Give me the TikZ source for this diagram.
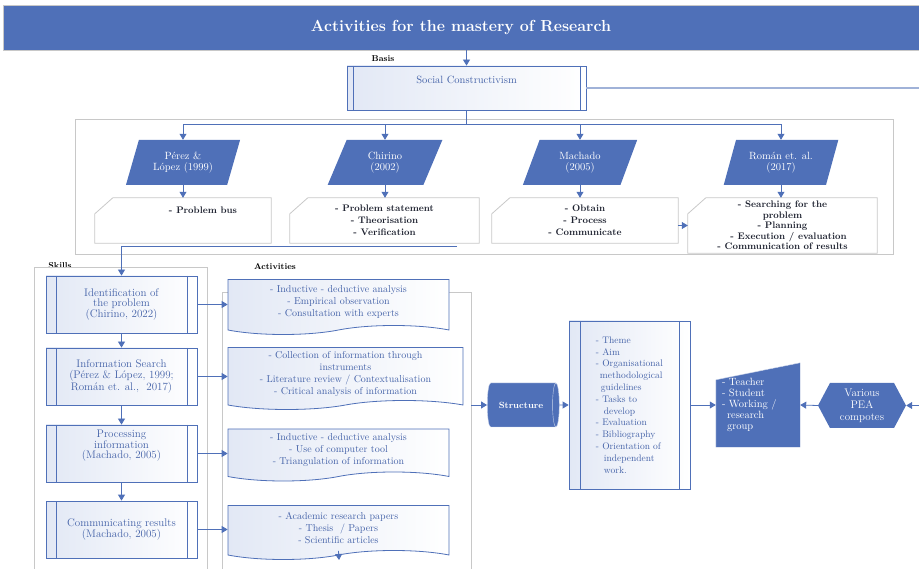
\documentclass[tikz,border=0pt]{standalone}
\usetikzlibrary{arrows.meta,shapes.geometric,shapes.symbols,backgrounds}

\definecolor{mainblue}{RGB}{79,112,184}
\definecolor{textblue}{RGB}{68,98,168}
\definecolor{linkblue}{RGB}{160,178,216}
\definecolor{framegray}{RGB}{200,200,200}
\definecolor{boxtint}{RGB}{226,232,245}
\definecolor{textdark}{RGB}{30,34,48}

% outline of a card with a cut corner
\newcommand\cardedge[1]{\draw [draw=framegray, line width=0.8pt] ([yshift=-16pt]#1.north west)
	-- ([xshift=18pt]#1.north west) -- (#1.north east) -- (#1.south east) -- (#1.south west) -- cycle;}

\begin{document}
\begin{tikzpicture}[
  x=1pt, y=-1pt,
  ln/.style={draw=mainblue, line width=0.8pt},
  arr/.style={ln, -{Triangle[width=7pt,length=6pt]}},
  frame/.style={draw=framegray, line width=1pt},
  tag/.style={font=\bfseries\fontsize{8.5}{9}\selectfont, text=black, inner sep=0pt},
  banner/.style={fill=mainblue, draw=framegray, text=white, minimum width=916pt,
    minimum height=45pt, font=\bfseries\fontsize{16}{18}\selectfont},
  procbox/.style={draw=mainblue, line width=0.8pt, left color=boxtint, right color=white,
    text=textblue, align=center, inner sep=1pt, font=\fontsize{11}{10.5}\selectfont,
    path picture={\draw [mainblue, line width=0.8pt]
      ([xshift=#1]path picture bounding box.north west) -- ([xshift=#1]path picture bounding box.south west)
      ([xshift=-#1]path picture bounding box.north east) -- ([xshift=-#1]path picture bounding box.south east);}},
  procbox/.default=10pt,
  para/.style={trapezium, trapezium left angle=69, trapezium right angle=111,
    trapezium stretches=true, fill=mainblue, text=white, minimum width=115pt,
    minimum height=45pt, align=center, inner sep=1pt, font=\fontsize{10.5}{11.5}\selectfont},
  card/.style={fill=white, text=textdark, align=center, inner sep=1pt,
    font=\bfseries\fontsize{9.5}{11.8}\selectfont},
  doc/.style={tape, tape bend top=none, tape bend bottom=in and out, tape bend height=9pt,
    draw=mainblue, line width=0.8pt, left color=boxtint, right color=white, text=textblue,
    align=center, inner sep=1pt, font=\fontsize{10}{12}\selectfont},
  store/.style={cylinder, shape aspect=0.8, fill=mainblue, draw=white!70!mainblue,
    text=white, minimum width=44pt, minimum height=72pt, inner sep=1pt,
    font=\bfseries\fontsize{9}{10}\selectfont},
  hexa/.style={signal, signal to=west and east, signal pointer angle=124, fill=mainblue,
    text=white, minimum width=88pt, minimum height=45pt, align=center, inner sep=1pt,
    font=\fontsize{11}{12}\selectfont},
]

\useasboundingbox (0,0) rectangle (919,569);

% head and basis
\node [banner] (title) at (461,27.5) {Activities for the mastery of Research};
\node [tag] (basis) at (383,59) {Basis};
\node [procbox=6pt, minimum width=239pt, minimum height=44pt, font=\fontsize{10.5}{12}\selectfont] (social) at (466.5,88)
	{Social Constructivism\\\strut};
\draw [arr] (social.north |- title.south) -- (social.north);
\coordinate (rimtop) at (919,88);
\draw [linkblue, line width=1.6pt] (social.east) -- (rimtop);

% authors
\draw [frame] (75,120) rectangle (893,255);

\node [para] (perez) at (183,162.5) {Pérez \&\\López (1999)};
\node [para] (chirino) at (385,162.5) {Chirino\\(2002)};
\node [para] (machado) at (580,162.5) {Machado\\(2005)};
\node [para] (roman) at (781,162.5) {Román et. al.\\(2017)};

\coordinate (split) at (466.5,124);
\draw [ln] (social.south) -- (split);
\draw [arr] (split) -| (perez.north);
\draw [arr] (split) -| (chirino.north);
\draw [arr] (split) -| (machado.north);
\draw [arr] (split) -| (roman.north);

\node [card, minimum width=176pt, minimum height=45pt] (cperez) at (183,220.5) {\hspace{40pt}- Problem bus\\[8pt]};
\node [card, minimum width=189pt, minimum height=45pt] (cchirino) at (384.5,220.5)
	{- Problem statement\\- Theorisation\\- Verification};
\node [card, minimum width=186pt, minimum height=45pt] (cmachado) at (585,220.5)
	{- Obtain\\- Process\\- Communicate};
\node [card, minimum width=189pt, minimum height=55pt, font=\bfseries\fontsize{9.5}{10.5}\selectfont] (croman) at (782.5,225.5)
	{- Searching for the\\problem\\- Planning\\\hspace{12pt}- Execution / evaluation\\- Communication of results};
\cardedge{cperez}
\cardedge{cchirino}
\cardedge{cmachado}
\cardedge{croman}

\draw [arr] (perez.south) -- (perez.south |- cperez.north);
\draw [arr] (chirino.south) -- (chirino.south |- cchirino.north);
\draw [arr] (machado.south) -- (machado.south |- cmachado.north);
\draw [arr] (roman.south) -- (roman.south |- croman.north);
\draw [arr] (cmachado.east |- croman.west) -- (croman.west);

% skills
\node [tag] (skills) at (60,266) {Skills};
\draw [frame] (34,569) -- (34,268) -- (207,268) -- (207,569);

\node [procbox, minimum width=151pt, minimum height=57pt] (ident) at (121.5,304.5)
	{Identification of\\the problem\\(Chirino, 2022)};
\node [procbox, minimum width=151pt, minimum height=57pt] (search) at (121.5,376.5)
	{Information Search\\(Pérez \& López, 1999;\\Román et. al.,\ \ 2017)};
\node [procbox, minimum width=151pt, minimum height=57pt] (process) at (121.5,453.5)
	{Processing\\information\\(Machado, 2005)\\[8pt]};
\node [procbox, minimum width=151pt, minimum height=57pt] (commun) at (121.5,529.5)
	{Communicating results\\(Machado, 2005)};

\draw [arr] ([xshift=-22pt,yshift=-3pt]cchirino.south east) -| (ident.north);
\draw [arr] (ident) -- (search);
\draw [arr] (search) -- (process);
\draw [arr] (process) -- (commun);

% activities
\node [tag] (activ) at (275,267) {Activities};
\draw [frame] (222,569) -- (222,293) -- (471,293) -- (471,569);

\node [doc, minimum width=221pt, minimum height=55pt] (aident) at (338.5,302.5)
	{- Inductive - deductive analysis\\- Empirical observation\\- Consultation with experts};
\node [doc, minimum width=235pt, minimum height=62pt] (asearch) at (345.5,374)
	{- Collection of information through\\instruments\\- Literature review / Contextualisation\\- Critical analysis of information};
\node [doc, minimum width=221pt, minimum height=52pt] (aprocess) at (338.5,450.5)
	{- Inductive - deductive analysis\\- Use of computer tool\\- Triangulation of information};
\node [doc, minimum width=221pt, minimum height=54pt] (acommun) at (338.5,528)
	{- Academic research papers\\- Thesis\ \ / Papers\\- Scientific articles};

\draw [arr] (ident.east) -- (ident.east -| aident.west);
\draw [arr] (search.east) -- (search.east -| asearch.west);
\draw [arr] (process.east) -- (process.east -| aprocess.west);
\draw [arr] (commun.east) -- (commun.east -| acommun.west);
\coordinate (below) at (339,560);
\draw [arr] (acommun.south) -- (below);

% structure of the work
\coordinate (actright) at (471,405);
\node [store] (struct) at (521,405) {Structure};
\node [procbox=11pt, minimum width=121pt, minimum height=168pt, align=left,
	font=\fontsize{9.5}{11.8}\selectfont] (items) at (629.5,405)
	{- Theme\\- Aim\\- Organisational\\\hspace*{4pt}methodological\\\hspace*{5pt}guidelines\\- Tasks to\\\hspace*{8pt}develop\\
	 - Evaluation\\- Bibliography\\- Orientation of\\\hspace*{8pt}independent\\\hspace*{8pt}work.};
\draw [arr] (actright) -- (struct.west);
\draw [arr] (struct.east) -- (items.west);

\node [text width=72pt, minimum height=84pt, align=left, text=white, inner sep=0pt,
	font=\fontsize{10.5}{11}\selectfont] (team) at (758,405)
	{- Teacher\\- Student\\- Working /\\\hspace*{5pt}research\\\hspace*{5pt}group};
\begin{pgfonlayer}{background}
	\path [fill=mainblue, draw=white!75!mainblue] ([xshift=-6pt]team.south west) -- ([xshift=6pt]team.south east)
		-- ([xshift=6pt]team.north east) -- ([xshift=-6pt,yshift=-17pt]team.north west) -- cycle;
\end{pgfonlayer}
\draw [arr] (items.east) -- ([xshift=-6pt]team.west);

\node [hexa] (various) at (862,405.5) {Various\\PEA\\compotes};
\coordinate (rimright) at (919,405.5);
\draw [arr] (various.west) -- ([xshift=6pt]team.east);
\draw [arr] (rimright) -- (various.east);

\end{tikzpicture}
\end{document}
